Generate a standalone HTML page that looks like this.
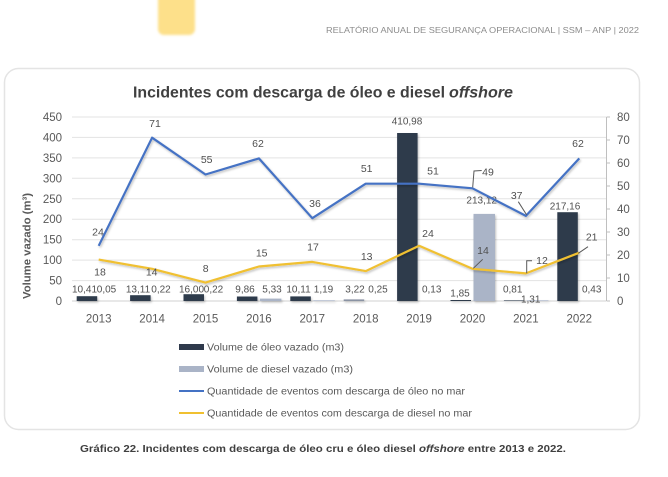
<!DOCTYPE html>
<html>
<head>
<meta charset="utf-8">
<style>
html,body{margin:0;padding:0;background:#fff;}
svg{display:block;}
text{font-family:"Liberation Sans",sans-serif;}
</style>
</head>
<body>
<svg width="668" height="477" viewBox="0 0 668 477" xmlns="http://www.w3.org/2000/svg">
<defs>
<filter id="sh" x="-5%" y="-20%" width="110%" height="140%">
<feDropShadow dx="1" dy="1.5" stdDeviation="1" flood-color="#000" flood-opacity="0.25"/>
</filter>
<filter id="bl"><feGaussianBlur stdDeviation="1.2"/></filter>
</defs>
<rect x="0" y="0" width="668" height="477" fill="#fff"/>
<!-- header -->
<rect x="158" y="-10" width="37" height="45" rx="6" fill="#fde08a" filter="url(#bl)"/>
<text x="326" y="33" font-size="8" fill="#8c8c8c" textLength="313" lengthAdjust="spacingAndGlyphs">RELATÓRIO ANUAL DE SEGURANÇA OPERACIONAL  |  SSM – ANP  |  2022</text>
<!-- card -->
<rect x="4.5" y="68.5" width="635" height="361" rx="14" fill="#fff" stroke="#e4e4e4" stroke-width="1.5"/>
<!-- title -->
<text x="133" y="97.5" font-size="16" font-weight="bold" fill="#404040" textLength="312" lengthAdjust="spacingAndGlyphs">Incidentes com descarga de óleo e diesel</text>
<text x="449" y="97.5" font-size="16" font-weight="bold" font-style="italic" fill="#404040" textLength="64" lengthAdjust="spacingAndGlyphs">offshore</text>
<!-- gridlines -->
<g stroke="#e3e3e3" stroke-width="1">
<line x1="72" y1="117" x2="606" y2="117"/>
<line x1="72" y1="137.4" x2="606" y2="137.4"/>
<line x1="72" y1="157.9" x2="606" y2="157.9"/>
<line x1="72" y1="178.3" x2="606" y2="178.3"/>
<line x1="72" y1="198.8" x2="606" y2="198.8"/>
<line x1="72" y1="219.2" x2="606" y2="219.2"/>
<line x1="72" y1="239.7" x2="606" y2="239.7"/>
<line x1="72" y1="260.1" x2="606" y2="260.1"/>
<line x1="72" y1="280.6" x2="606" y2="280.6"/>
</g>
<line x1="72" y1="301" x2="606" y2="301" stroke="#d0d0d0" stroke-width="1"/>
<!-- right axis -->
<g stroke="#bfbfbf" stroke-width="1">
<line x1="606.5" y1="117" x2="606.5" y2="301"/>
<line x1="606.5" y1="117" x2="610" y2="117"/>
<line x1="606.5" y1="140" x2="610" y2="140"/>
<line x1="606.5" y1="163" x2="610" y2="163"/>
<line x1="606.5" y1="186" x2="610" y2="186"/>
<line x1="606.5" y1="209" x2="610" y2="209"/>
<line x1="606.5" y1="232" x2="610" y2="232"/>
<line x1="606.5" y1="255" x2="610" y2="255"/>
<line x1="606.5" y1="278" x2="610" y2="278"/>
<line x1="606.5" y1="301" x2="610" y2="301"/>
</g>
<!-- left ticks -->
<g font-size="11.5" fill="#595959" text-anchor="end">
<text x="62" y="121">450</text>
<text x="62" y="141.4">400</text>
<text x="62" y="161.9">350</text>
<text x="62" y="182.3">300</text>
<text x="62" y="202.8">250</text>
<text x="62" y="223.2">200</text>
<text x="62" y="243.7">150</text>
<text x="62" y="264.1">100</text>
<text x="62" y="284.6">50</text>
<text x="62" y="305">0</text>
</g>
<!-- right ticks -->
<g font-size="11.5" fill="#595959">
<text x="617" y="121">80</text>
<text x="617" y="144">70</text>
<text x="617" y="167">60</text>
<text x="617" y="190">50</text>
<text x="617" y="213">40</text>
<text x="617" y="236">30</text>
<text x="617" y="259">20</text>
<text x="617" y="282">10</text>
<text x="617" y="305">0</text>
</g>
<!-- y title -->
<text transform="translate(30.5,246) rotate(-90)" text-anchor="middle" font-size="11" font-weight="bold" fill="#595959" textLength="106" lengthAdjust="spacingAndGlyphs">Volume vazado (m³)</text>
<!-- x labels -->
<g font-size="11.5" fill="#595959" text-anchor="middle">
<text x="98.7" y="322.5">2013</text>
<text x="152.1" y="322.5">2014</text>
<text x="205.5" y="322.5">2015</text>
<text x="258.9" y="322.5">2016</text>
<text x="312.3" y="322.5">2017</text>
<text x="365.7" y="322.5">2018</text>
<text x="419.1" y="322.5">2019</text>
<text x="472.5" y="322.5">2020</text>
<text x="525.9" y="322.5">2021</text>
<text x="579.3" y="322.5">2022</text>
</g>
<!-- bars -->
<g filter="url(#sh)">
<g fill="#2f3a4c">
<rect x="76.7" y="296.2" width="20.5" height="4.8"/>
<rect x="130.1" y="295.2" width="20.5" height="5.8"/>
<rect x="183.5" y="294.2" width="20.5" height="6.8"/>
<rect x="236.9" y="296.5" width="20.5" height="4.5"/>
<rect x="290.3" y="296.4" width="20.5" height="4.6"/>
<rect x="343.7" y="299.4" width="20.5" height="1.6" fill="#8a93a3"/>
<rect x="397.1" y="133" width="20.5" height="168"/>
<rect x="450.5" y="300" width="20.5" height="1"/>
<rect x="503.9" y="300.4" width="20.5" height="0.6"/>
<rect x="557.3" y="212.2" width="20.5" height="88.8"/>
</g>
<g fill="#aab4c7">
<rect x="259.9" y="298.6" width="21.5" height="2.4"/>
<rect x="313.3" y="300.3" width="21.5" height="0.7"/>
<rect x="473.5" y="213.9" width="21.5" height="87.1"/>
<rect x="526.9" y="300.3" width="21.5" height="0.7"/>
</g>
</g>
<!-- bar labels -->
<g font-size="10" fill="#505050" text-anchor="middle">
<text x="84.5" y="292.5">10,41</text>
<text x="106.5" y="292.5">0,05</text>
<text x="138" y="292.5">13,11</text>
<text x="161" y="292.5">0,22</text>
<text x="191.5" y="292.5">16,00</text>
<text x="213.5" y="292.5">0,22</text>
<text x="245" y="292.5">9,86</text>
<text x="272" y="292.5">5,33</text>
<text x="298.5" y="292.5">10,11</text>
<text x="323.5" y="292.5">1,19</text>
<text x="355" y="292.5">3,22</text>
<text x="378" y="292.5">0,25</text>
<text x="407" y="124.5">410,98</text>
<text x="431.7" y="292.5">0,13</text>
<text x="460" y="296.5">1,85</text>
<text x="481.7" y="203.5">213,12</text>
<text x="512.7" y="292.5">0,81</text>
<text x="530.7" y="302.5">1,31</text>
<text x="565" y="209.5">217,16</text>
<text x="591.7" y="292.5">0,43</text>
</g>
<!-- lines -->
<g fill="none" stroke-width="2.2" stroke-linejoin="round" filter="url(#sh)">
<polyline stroke="#4472c4" points="98.7,245.8 152.1,137.7 205.5,174.5 258.9,158.4 312.3,218.2 365.7,183.7 419.1,183.7 472.5,188.3 525.9,215.9 579.3,158.4"/>
<polyline stroke="#f0c030" points="98.7,259.6 152.1,268.8 205.5,282.6 258.9,266.5 312.3,261.9 365.7,271.1 419.1,245.8 472.5,268.8 525.9,273.4 579.3,252.7"/>
</g>
<!-- leaders -->
<g fill="none" stroke="#595959" stroke-width="1">
<polyline points="472.7,187.3 474,171 481.7,170.5"/>
<polyline points="526.7,215 518.3,201.7"/>
<polyline points="473.3,268.3 482.7,259.3"/>
<polyline points="526.7,273.3 526.7,260.7 532,260.7"/>
<polyline points="578.3,253.3 588,246.7"/>
</g>
<!-- line labels -->
<g font-size="10.5" fill="#505050" text-anchor="middle">
<text x="98" y="235.5">24</text>
<text x="155" y="127">71</text>
<text x="206.7" y="163">55</text>
<text x="258" y="147">62</text>
<text x="315" y="207">36</text>
<text x="366.7" y="172">51</text>
<text x="433" y="174.5">51</text>
<text x="488" y="175.5">49</text>
<text x="516.7" y="199">37</text>
<text x="578" y="147">62</text>
<text x="100" y="275.5">18</text>
<text x="151.7" y="275.5">14</text>
<text x="205.7" y="272">8</text>
<text x="261.7" y="256.5">15</text>
<text x="313" y="250.5">17</text>
<text x="366.7" y="260">13</text>
<text x="428" y="237">24</text>
<text x="483" y="254">14</text>
<text x="542" y="264">12</text>
<text x="591.7" y="240.5">21</text>
</g>
<!-- legend -->
<rect x="179" y="344" width="25" height="6" fill="#2f3a4c"/>
<rect x="179" y="366" width="25" height="6" fill="#aab4c7"/>
<line x1="179" y1="391" x2="204" y2="391" stroke="#4472c4" stroke-width="2"/>
<line x1="179" y1="413" x2="204" y2="413" stroke="#f0c030" stroke-width="2"/>
<g font-size="10" fill="#595959">
<text x="207" y="350.5" textLength="137" lengthAdjust="spacingAndGlyphs">Volume de óleo vazado (m3)</text>
<text x="207" y="372.5" textLength="146" lengthAdjust="spacingAndGlyphs">Volume de diesel vazado (m3)</text>
<text x="207" y="394.5" textLength="258" lengthAdjust="spacingAndGlyphs">Quantidade de eventos com descarga de óleo no mar</text>
<text x="207" y="416.5" textLength="265" lengthAdjust="spacingAndGlyphs">Quantidade de eventos com descarga de diesel no mar</text>
</g>
<!-- caption -->
<text x="80" y="452" font-size="10.5" font-weight="bold" fill="#404040" textLength="486" lengthAdjust="spacingAndGlyphs">Gráfico 22. Incidentes com descarga de óleo cru e óleo diesel <tspan font-style="italic">offshore</tspan> entre 2013 e 2022.</text>
</svg>
</body>
</html>
